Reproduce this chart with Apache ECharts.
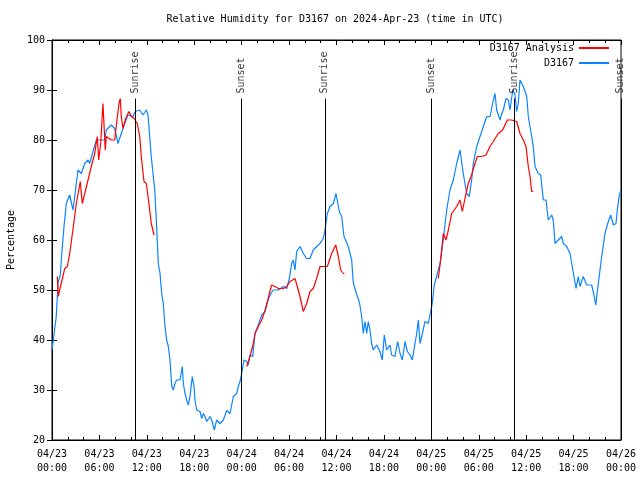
<!DOCTYPE html>
<html><head><meta charset="utf-8">
<script src="https://cdn.jsdelivr.net/npm/echarts@6/dist/echarts.min.js"></script>
<style>html,body{margin:0;padding:0;background:#fff}#c{width:640px;height:480px}</style>
</head><body><div id="c"></div>
<script>
// hours since 2024-04-23 00:00 UTC
const blueHours = [0,0.25,0.54,0.76,1.05,1.27,1.52,1.81,2.24,2.66,2.87,3.29,3.71,4.14,4.56,4.77,5.19,5.61,6.67,6.87,7.5,7.93,8.35,8.77,9.2,9.62,10.25,10.54,11.1,11.51,11.93,12.15,12.56,13.0,13.2,13.45,13.67,13.88,14.08,14.3,14.51,14.72,14.93,15.15,15.35,15.56,15.78,16.2,16.49,16.62,16.83,17.04,17.25,17.46,17.75,17.97,18.09,18.31,18.73,18.94,19.15,19.36,19.58,19.78,19.99,20.21,20.54,20.84,21.26,21.68,22.11,22.52,22.74,22.94,23.37,23.57,23.79,24.0,24.3,24.64,24.84,25.05,25.4,25.69,26.1,26.54,26.95,27.17,27.59,28.0,28.64,29.27,29.7,30.03,30.33,30.53,30.75,30.96,31.38,31.59,31.8,32.23,32.65,33.06,33.49,33.91,34.33,34.54,34.84,35.18,35.6,35.94,36.1,36.35,36.66,36.95,37.2,37.49,37.92,38.12,38.53,38.91,39.19,39.39,39.61,39.82,40.02,40.24,40.45,40.66,41.08,41.5,41.79,42.05,42.35,42.77,42.98,43.4,43.74,44.04,44.33,44.67,44.96,45.3,45.59,45.93,46.15,46.35,46.57,46.78,47.2,47.62,47.92,48.12,48.37,48.68,49.1,49.51,49.94,50.36,50.78,51.21,51.63,51.84,52.04,52.47,52.8,53.1,53.31,53.74,54.16,54.58,55.01,55.43,55.85,56.06,56.27,56.69,56.91,57.11,57.45,57.74,57.95,58.3,58.59,58.8,59.0,59.22,59.64,60.07,60.27,60.7,60.9,61.12,61.54,61.84,62.17,62.51,62.8,63.23,63.43,63.65,64.07,64.49,64.7,65.13,65.55,65.76,66.05,66.31,66.6,66.81,67.23,67.65,68.29,68.58,68.8,69.13,69.56,69.97,70.4,70.7,71.03,71.37,71.53,71.79,72.0];
const blueValues = [38,38,44.7,51.4,53,58,62.7,67.3,69,66,66,74,73.3,75.3,76,75.3,77.7,80,80,82,83,82.3,79.3,81.3,83.3,85,84.7,85.7,86,85,86,85,76.7,70,64,55.3,53.3,49.3,47.3,42.7,40,38.7,36,30.7,30,31.3,32,32,34.7,31.3,29.3,28,27,28.7,32.7,30.7,28,26,25.7,24.3,25.3,24.7,23.7,23.3,24.7,24,22,24,23.3,24,25.9,25.3,27,28.7,29.3,30.7,31.7,33.3,36,35.7,35,37,36.7,41.3,43,45,45.7,47.3,49,50,50,50.7,50.3,52.3,55.3,56,54,57.7,58.7,59,57.3,56.3,56.3,58,58.7,59.3,60.3,62,65.3,66.7,67.3,69.3,69,65.7,64.7,60.7,61,58.7,56,51.5,49.2,47.5,44.7,41.3,43.7,41.3,43.7,42,39.3,38,39,37.7,36,41,38,39,37,36.7,39.7,37.3,36,39.7,37.7,37,36,39.3,41.3,44,39.3,40.7,43.7,43.3,45.7,47.3,51,52.8,55.3,60,66,70,72,75.3,78,78,73.3,69.3,68.7,72,75.3,78.7,80.7,82.7,84.7,84.7,88,89.3,86,84,85.3,86,88.3,88,86,90,89,85.7,87.3,92,90.7,88.7,84.7,80.7,78.7,74.7,73.3,73,68,68,64,65,64,59.3,60,60.7,59.3,58.7,57.3,55.3,52.7,50.3,52.7,50.7,52.7,51,51,49,47,51.3,56.7,61.3,63.7,65,63,63.3,66,69,70];
const redHours = [0.67,0.8,0.97,1.27,1.61,1.94,2.24,2.53,2.87,3.07,3.29,3.58,3.83,4.14,4.56,4.97,5.4,5.73,5.91,6.16,6.45,6.74,6.87,7.5,7.93,8.22,8.48,8.64,8.77,8.98,9.33,9.74,10.03,10.38,10.79,11.1,11.3,11.64,11.93,12.15,12.36,12.56,12.91,18,24.64,24.84,25.05,25.47,25.69,26.1,26.54,26.83,27.17,27.5,27.8,28.22,28.64,29.27,29.7,30.12,30.75,31.04,31.38,31.8,32.23,32.65,33.06,33.49,33.91,34.54,34.84,35.39,35.9,36.23,36.53,36.86,37.0,42,48.88,49.18,49.51,49.86,50.15,50.58,51.21,51.63,51.92,52.26,52.68,53.1,53.4,53.82,54.37,54.92,55.42,55.84,56.47,57.03,57.61,58.17,58.8,59.22,59.64,59.98,60.27,60.49,60.7,60.9];
const redValues = [52.7,48.7,50,52,54.3,54.7,57.3,60.7,64.7,67.3,67,71.7,67.3,69.3,72,74.7,77.3,80.7,76,79.3,87.3,78,80.7,80,80,84,87.3,88.3,84.7,82.3,84.3,85.7,84.7,84.3,83.3,80.7,76.7,71.7,71.3,68.7,66,63.3,61,null,34.7,34.3,36.7,39.3,41.3,42.7,44,45.3,47,49.3,51,50.7,50.3,50.3,50.7,51.7,52.3,50.7,48.7,45.7,47.3,49.7,50.3,52.3,54.7,54.7,54.7,57.3,59,56.7,54,53.3,53.3,null,52.3,56,61.3,60,62,65.3,66.7,68,65.7,68.3,71.3,73,74.7,76.7,76.7,77,78.7,79.7,81.3,82,84,84,83.7,81.3,80,78.7,74.7,72.7,69.7,69.7];
const sunHours = [10.5,23.93,34.53,47.95,58.47,71.97];
const sunLabels = ["Sunrise","Sunset","Sunrise","Sunset","Sunrise","Sunset"];
const xTickLabels = ["04/23\n00:00","04/23\n06:00","04/23\n12:00","04/23\n18:00","04/24\n00:00","04/24\n06:00","04/24\n12:00","04/24\n18:00","04/25\n00:00","04/25\n06:00","04/25\n12:00","04/25\n18:00","04/26\n00:00"];
const seriesNames = ["D3167 Analysis","D3167"];

const FONT = "DejaVu Sans Mono";
const txt = {fontFamily: FONT, fontSize: 10, color: '#000'};
const chart = echarts.init(document.getElementById('c'), null, {renderer:'canvas'});
const pairs = (xs, ys) => xs.map((x,i)=>[x, ys[i]]);
const sunLineTop = 88.3;
const xBase = {type:'value', min:0, max:72, interval:6,
  axisLine:{show:true, lineStyle:{color:'#000', width:1}},
  axisTick:{show:true, inside:true, length:5, lineStyle:{color:'#000'}},
  minorTick:{show:true, splitNumber:3, length:3, lineStyle:{color:'#000'}},
  splitLine:{show:false}, minorSplitLine:{show:false}};
const yBase = {type:'value', min:20, max:100, interval:10,
  axisLine:{show:true, lineStyle:{color:'#000', width:1}},
  axisTick:{show:true, inside:true, length:5, lineStyle:{color:'#000'}},
  splitLine:{show:false}};
const legendBase = {orient:'vertical', right:25, align:'right', itemWidth:30, itemHeight:10, itemGap:5,
  textStyle:txt, selectedMode:false, itemStyle:{opacity:0}};
chart.setOption({
  animation:false,
  backgroundColor:'#fff',
  title:{text:'Relative Humidity for D3167 on 2024-Apr-23 (time in UTC)', left:330, top:9, textAlign:'center',
    textStyle:Object.assign({fontWeight:'normal'}, txt)},
  grid:{left:52, right:19, top:40, bottom:40, containLabel:false, outerBoundsMode:'none',
    show:true, borderColor:'#000', borderWidth:1, backgroundColor:'transparent'},
  legend:[
    Object.assign({data:[seriesNames[0]], top:38}, legendBase),
    Object.assign({data:[seriesNames[1]], top:53}, legendBase)
  ],
  xAxis:[
    Object.assign({}, xBase, {position:'bottom', axisLabel:Object.assign({margin:7, lineHeight:14, formatter:(v)=>xTickLabels[Math.round(v/6)]}, txt)}),
    Object.assign({}, xBase, {position:'top', axisLabel:{show:false}})
  ],
  yAxis:[
    Object.assign({}, yBase, {position:'left', name:'Percentage', nameLocation:'middle', nameGap:36, nameRotate:90, nameTextStyle:txt, axisLabel:Object.assign({margin:7}, txt)}),
    Object.assign({}, yBase, {position:'right', axisLabel:{show:false}})
  ],
  series:[
    {name:seriesNames[0], type:'line', data:pairs(redHours, redValues), symbol:'none', connectNulls:false,
      lineStyle:{color:'#ff0000', width:1.2}, itemStyle:{color:'#ff0000'}, z:3},
    {name:seriesNames[1], type:'line', data:pairs(blueHours, blueValues), symbol:'none',
      lineStyle:{color:'#0a84ff', width:1.2}, itemStyle:{color:'#0a84ff'}, z:2},
    {name:'sun', type:'scatter', symbolSize:0, silent:true, z:4,
      data:sunHours.map((h,i)=>({value:[h, sunLineTop], name:sunLabels[i]})),
      label:{show:true, formatter:(p)=>p.name, position:'top', distance:5, rotate:90, align:'left', verticalAlign:'middle',
        fontFamily:FONT, fontSize:10, color:'#000'},
      markLine:{silent:true, symbol:['none','none'], label:{show:false}, lineStyle:{color:'#000', width:1, type:'solid'},
        data:sunHours.map(h=>[{coord:[h,20]},{coord:[h,sunLineTop]}])}}
  ]
});
</script></body></html>
